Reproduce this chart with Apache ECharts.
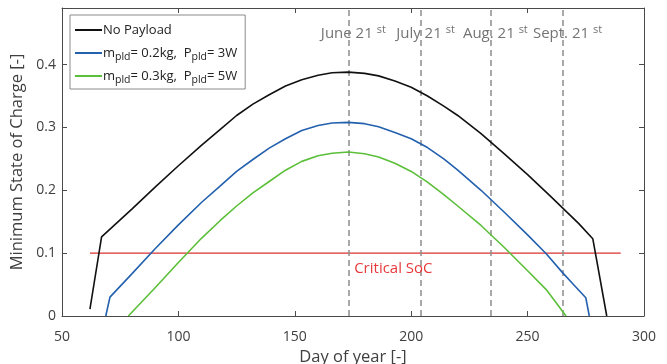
<!DOCTYPE html>
<html>
<head>
<meta charset="utf-8">
<script src="https://cdn.jsdelivr.net/npm/echarts@6/dist/echarts.min.js"></script>
<style>
  html, body { margin: 0; padding: 0; background: #fff; }
  #main { width: 667px; height: 364px; }
</style>
</head>
<body>
<div id="main"></div>
<script>
// day of year vs. minimum SoC
var noPayloadDays = [62, 67, 80, 90, 100, 110, 118, 125, 132, 139, 146, 153, 160, 166, 173, 180, 186, 193, 200, 207, 214, 220, 230, 240, 250, 260, 265, 272, 278, 284];
var noPayloadSoc  = [0.011, 0.126, 0.170, 0.205, 0.239, 0.272, 0.297, 0.319, 0.337, 0.352, 0.366, 0.376, 0.383, 0.387, 0.388, 0.386, 0.382, 0.374, 0.364, 0.350, 0.334, 0.319, 0.290, 0.258, 0.225, 0.190, 0.172, 0.147, 0.123, 0.0];

var pld02Days = [68.8, 70.6, 80, 90, 100, 110, 118, 125, 132, 139, 146, 153, 160, 166, 173, 180, 186, 193, 200, 207, 214, 220, 230, 240, 250, 258, 265, 270, 275, 276.5];
var pld02Soc  = [0.0, 0.030, 0.067, 0.107, 0.145, 0.181, 0.207, 0.230, 0.249, 0.267, 0.282, 0.295, 0.303, 0.307, 0.308, 0.306, 0.301, 0.292, 0.282, 0.268, 0.250, 0.232, 0.200, 0.165, 0.129, 0.099, 0.069, 0.049, 0.029, 0.0];

var pld03Days = [78.5, 90, 100, 110, 118, 125, 132, 139, 146, 153, 160, 166, 173, 180, 186, 193, 200, 207, 214, 220, 230, 240, 250, 258, 266.5];
var pld03Soc  = [0.0, 0.045, 0.085, 0.124, 0.152, 0.175, 0.196, 0.214, 0.232, 0.246, 0.255, 0.259, 0.261, 0.258, 0.253, 0.243, 0.230, 0.213, 0.193, 0.175, 0.144, 0.109, 0.072, 0.042, 0.0];

var criticalDays = [62, 290];
var criticalSoc = 0.1;

var monthDays = [173, 204, 234, 265];
var monthLabels = ['June 21', 'July 21', 'Aug. 21', 'Sept. 21'];

var yTicks = [0, 0.1, 0.2, 0.3, 0.4];

var seriesNames = ['No Payload', 'm_pld= 0.2kg,  P_pld= 3W', 'm_pld= 0.3kg,  P_pld= 5W'];

function pairs(xs, ys) {
  return xs.map(function (x, i) { return [x, ys[i]]; });
}

var FONT = 'Open Sans';
var TXT = '#404040';
var AX = '#4a4a4a';

var myChart = echarts.init(document.getElementById('main'));

function axisCommon(show) {
  return {
    axisLine: { show: true, onZero: false, lineStyle: { color: AX, width: 1 } },
    axisTick: { show: true, inside: true, length: 5, lineStyle: { color: AX } },
    splitLine: { show: false },
    axisLabel: { show: show }
  };
}

var option = {
  animation: false,
  textStyle: { fontFamily: FONT },
  grid: { left: 62, right: 23, top: 8, bottom: 48, outerBoundsMode: 'none', containLabel: false },
  xAxis: [
    Object.assign(axisCommon(true), {
      type: 'value', min: 50, max: 300, interval: 50, position: 'bottom',
      name: 'Day of year [-]', nameLocation: 'middle', nameGap: 29,
      nameTextStyle: { color: TXT, fontSize: 16.5, fontFamily: FONT },
      axisLabel: { show: true, color: TXT, fontSize: 14, fontFamily: FONT, margin: 14 }
    }),
    Object.assign(axisCommon(false), {
      type: 'value', min: 50, max: 300, interval: 50, position: 'top'
    })
  ],
  yAxis: [
    Object.assign(axisCommon(true), {
      type: 'value', min: 0, max: 0.49, position: 'left',
      name: 'Minimum State of Charge [-]', nameLocation: 'middle', nameGap: 33,
      nameTextStyle: { color: TXT, fontSize: 16.5, fontFamily: FONT },
      axisTick: { show: true, inside: true, length: 5, lineStyle: { color: AX }, customValues: yTicks },
      axisLabel: { show: true, color: TXT, fontSize: 14, fontFamily: FONT, margin: 6, customValues: yTicks }
    }),
    Object.assign(axisCommon(false), {
      type: 'value', min: 0, max: 0.49, position: 'right',
      axisTick: { show: true, inside: true, length: 5, lineStyle: { color: AX }, customValues: yTicks }
    })
  ],
  legend: {
    data: seriesNames,
    orient: 'vertical',
    left: 70, top: 15,
    padding: [5, 8, 3, 5],
    itemGap: 3,
    itemWidth: 27,
    itemHeight: 2,
    icon: 'rect',
    backgroundColor: '#fff',
    borderColor: '#8a8a8a',
    borderWidth: 1,
    borderRadius: 0,
    formatter: function (name) {
      return name.replace(/_pld/g, '{sub|pld}');
    },
    textStyle: {
      color: '#222', fontSize: 13, fontFamily: FONT, lineHeight: 20,
      padding: [0, 0, 0, -4],
      rich: {
        sub: { fontSize: 10.5, fontFamily: FONT, color: '#222', lineHeight: 11, verticalAlign: 'bottom' }
      }
    }
  },
  series: [
    {
      name: seriesNames[0], type: 'line', symbol: 'none', data: pairs(noPayloadDays, noPayloadSoc),
      lineStyle: { color: '#111', width: 1.6 }, itemStyle: { color: '#111' }, z: 5
    },
    {
      name: seriesNames[1], type: 'line', symbol: 'none', data: pairs(pld02Days, pld02Soc),
      lineStyle: { color: '#2360ad', width: 1.6 }, itemStyle: { color: '#2360ad' }, z: 5
    },
    {
      name: seriesNames[2], type: 'line', symbol: 'none', data: pairs(pld03Days, pld03Soc),
      lineStyle: { color: '#5cbf3a', width: 1.6 }, itemStyle: { color: '#5cbf3a' }, z: 5
    },
    {
      name: 'Critical SoC', type: 'line', symbol: 'none',
      data: criticalDays.map(function (d) { return [d, criticalSoc]; }),
      lineStyle: { color: '#dc3232', width: 1.2 }, z: 4,
      markPoint: {
        symbol: 'circle', symbolSize: 0, silent: true,
        data: [{ coord: [175.5, criticalSoc] }],
        label: {
          show: true, formatter: 'Critical SoC', position: 'right', distance: 0,
          offset: [0, 16], color: '#e8393b', fontSize: 15, fontFamily: FONT
        }
      }
    },
    {
      name: 'dates', type: 'line', symbol: 'none', data: [],
      markLine: {
        silent: true, symbol: 'none',
        lineStyle: { color: '#8c8c8c', width: 1.5, type: [6, 4] },
        label: { show: false },
        data: monthDays.map(function (d) { return { xAxis: d }; })
      }
    },
    {
      name: 'dateLabels', type: 'scatter', symbolSize: 0, silent: true,
      data: monthDays.map(function (d, i) { return { value: [d, 0.45], name: monthLabels[i] }; }),
      label: {
        show: true, position: 'inside', offset: [5, 1],
        formatter: function (p) { return '{a|' + p.name + ' }{s|st}'; },
        rich: {
          a: { color: '#505050', fontSize: 15, fontFamily: FONT, lineHeight: 20, verticalAlign: 'middle' },
          s: { color: '#505050', fontSize: 11, fontFamily: FONT, lineHeight: 12, verticalAlign: 'top' }
        }
      }
    }
  ]
};

myChart.setOption(option);
</script>
</body>
</html>
